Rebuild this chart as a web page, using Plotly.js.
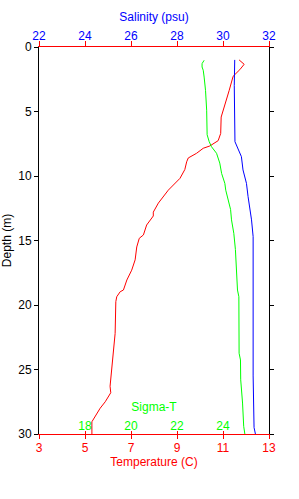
<!DOCTYPE html>
<html>
<head>
<meta charset="utf-8">
<script src="https://cdn.plot.ly/plotly-3.0.1.min.js"></script>
<style>html,body{margin:0;padding:0;background:#fff;}#chart{width:299px;height:499px;}</style>
</head>
<body>
<div id="chart"></div>
<script>
// Temperature profile (C) vs depth (m)
const tempDepth = [1.0, 1.34, 1.76, 2.27, 3.36, 4.13, 4.9, 5.43, 6.7, 7.26, 7.67, 7.85, 8.24, 8.6, 8.9, 9.5, 10.18, 10.7, 11.1, 12.1, 12.8, 13.1, 13.8, 14.57, 14.83, 15.5, 16.5, 17.3, 18.06, 18.84, 18.97, 19.36, 19.74, 22.2, 23.6, 24.3, 24.8, 26.3, 26.8, 27.5, 28.0, 28.8, 29.05, 30];
const tempVal = [11.70, 11.92, 11.73, 11.44, 11.27, 11.15, 11.0, 10.92, 10.9, 10.79, 10.43, 10.14, 9.85, 9.49, 9.42, 9.34, 9.13, 8.84, 8.62, 8.19, 7.97, 7.97, 7.68, 7.54, 7.36, 7.25, 7.18, 7.03, 6.82, 6.67, 6.53, 6.38, 6.34, 6.31, 6.24, 6.21, 6.17, 6.09, 6.12, 5.88, 5.66, 5.37, 5.30, 5.30];

// Salinity profile (psu) vs depth (m)
const salDepth = [1.0, 3.0, 7.34, 7.98, 8.5, 9.53, 10.57, 11.6, 12.38, 13.4, 14.7, 25.5, 29.5, 30];
const salVal = [30.51, 30.49, 30.52, 30.66, 30.80, 30.87, 31.02, 31.09, 31.16, 31.24, 31.31, 31.31, 31.35, 31.41];

// Sigma-T profile vs depth (m)
const sigDepth = [1.03, 1.29, 1.55, 1.8, 2.33, 3.36, 4.9, 6.8, 7.34, 7.73, 8.24, 9.0, 9.8, 10.57, 11.1, 11.86, 12.6, 13.4, 14.44, 15.7, 17.5, 18.84, 19.36, 23.74, 24.26, 25.8, 27.6, 29.4, 30];
const sigVal = [23.18, 23.09, 23.09, 23.14, 23.18, 23.24, 23.29, 23.31, 23.40, 23.50, 23.72, 23.86, 23.94, 24.08, 24.12, 24.22, 24.33, 24.37, 24.47, 24.54, 24.59, 24.63, 24.69, 24.70, 24.76, 24.77, 24.85, 24.90, 24.95];

// Axis ticks
const tempTicks = [3, 5, 7, 9, 11, 13];
const salTicks = [22, 24, 26, 28, 30, 32];
const sigTicks = [18, 20, 22, 24];
const depthTicks = [0, 5, 10, 15, 20, 25, 30];

const RED = '#ff0000', BLUE = '#0000ff', GREEN = '#00ff00';
const FONT = 'Liberation Sans, Arial, sans-serif';

const traces = [
  {x: tempVal, y: tempDepth, xaxis: 'x', yaxis: 'y', mode: 'lines', line: {color: RED, width: 1}, hoverinfo: 'skip'},
  {x: salVal, y: salDepth, xaxis: 'x2', yaxis: 'y', mode: 'lines', line: {color: BLUE, width: 1}, hoverinfo: 'skip'},
  {x: sigVal, y: sigDepth, xaxis: 'x3', yaxis: 'y', mode: 'lines', line: {color: GREEN, width: 1}, hoverinfo: 'skip'}
];

const layout = {
  width: 299, height: 499,
  margin: {l: 39, r: 30, t: 47, b: 65, pad: 0},
  paper_bgcolor: '#fff', plot_bgcolor: '#fff',
  showlegend: false,
  font: {family: FONT, size: 12, color: '#000'},
  xaxis: {
    range: [3, 13], tickvals: tempTicks, showgrid: false, zeroline: false,
    showline: true, linecolor: RED, linewidth: 1,
    ticks: 'outside', ticklen: 4, tickcolor: RED, ticklabelstandoff: -1,
    tickfont: {color: RED, size: 12, family: FONT},
    title: {text: 'Temperature (C)', font: {color: RED, size: 12, family: FONT}, standoff: 3},
    fixedrange: true, automargin: false
  },
  xaxis2: {
    overlaying: 'x', side: 'top', anchor: 'y',
    range: [22, 32], tickvals: salTicks, showgrid: false, zeroline: false,
    showline: true, linecolor: RED, linewidth: 1,
    ticks: 'outside', ticklen: 5, tickcolor: RED, ticklabelstandoff: -4,
    tickfont: {color: BLUE, size: 12, family: FONT},
    title: {text: 'Salinity (psu)', font: {color: BLUE, size: 12, family: FONT}, standoff: 5},
    fixedrange: true, automargin: false
  },
  xaxis3: {
    overlaying: 'x', side: 'top', anchor: 'free', position: 0,
    range: [16, 26], tickvals: sigTicks, showgrid: false, zeroline: false,
    showline: false,
    ticks: 'outside', ticklen: 3, tickcolor: RED, ticklabelstandoff: -4,
    tickfont: {color: GREEN, size: 12, family: FONT},
    title: {text: 'Sigma-T', font: {color: GREEN, size: 12, family: FONT}, standoff: 4},
    fixedrange: true, automargin: false
  },
  yaxis: {
    range: [30, 0], tickvals: depthTicks, showgrid: false, zeroline: false,
    showline: true, linecolor: '#000', linewidth: 1, mirror: 'ticks',
    ticks: 'outside', ticklen: 4, tickcolor: '#000',
    tickfont: {color: '#000', size: 12, family: FONT},
    title: {text: 'Depth (m)', font: {color: '#000', size: 12, family: FONT}, standoff: 7},
    fixedrange: true, automargin: false
  }
};

Plotly.newPlot('chart', traces, layout, {displayModeBar: false, staticPlot: true});
</script>
</body>
</html>
